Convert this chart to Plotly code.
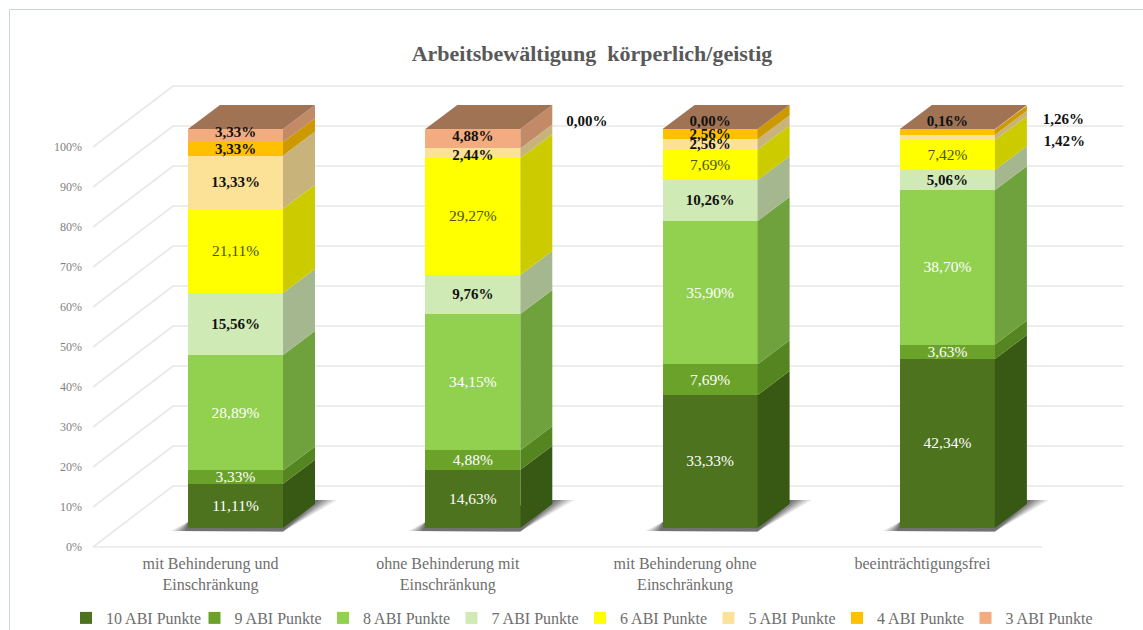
import plotly.graph_objects as go

categories = ["mit Behinderung und<br>Einschränkung", "ohne Behinderung mit<br>Einschränkung",
              "mit Behinderung ohne<br>Einschränkung", "beeinträchtigungsfrei"]
series_names = ["10 ABI Punkte", "9 ABI Punkte", "8 ABI Punkte", "7 ABI Punkte",
                "6 ABI Punkte", "5 ABI Punkte", "4 ABI Punkte", "3 ABI Punkte"]
s10 = [11.11, 14.63, 33.33, 42.34]
s9 = [3.33, 4.88, 7.69, 3.63]
s8 = [28.89, 34.15, 35.90, 38.70]
s7 = [15.56, 9.76, 10.26, 5.06]
s6 = [21.11, 29.27, 7.69, 7.42]
s5 = [13.33, 2.44, 2.56, 1.42]
s4 = [3.33, 0.00, 2.56, 1.26]
s3 = [3.33, 4.88, 0.00, 0.16]
series = [s10, s9, s8, s7, s6, s5, s4, s3]
wall_ticks = [0, 10, 20, 30, 40, 50, 60, 70, 80, 90, 100]

front_colors = ["#4E731F", "#6BA32A", "#92D050", "#D0EAB6", "#FFFF00", "#FBE296", "#FFC000", "#F2AC80"]
side_colors = ["#385914", "#558520", "#6FA23D", "#A5B78F", "#CBCB00", "#C8B47A", "#CC9900", "#C28A66"]
top_color = "#A07355"
label_colors = ["#FFFFFF", "#FFFFFF", "#FFFFFF", "#111111", "#4A5508", "#111111", "#111111", "#111111"]
label_bold = [False, False, False, True, False, True, True, True]
SERIF = "Liberation Serif"

# pixel scale of the figure -> data units
W, H = 1143, 630
X0, XSTEP = 235.5, 237.3          # category 0 centre, px per category
BAR_Y0, BAR_STEP = 528, 3.99      # bars: px of 0 %, px per %
WALL_Y0, WALL_STEP = 547, 4.0     # walls: px of 0 %, px per %
BAR_W = 95 / XSTEP
DX = 32 / XSTEP
DV = 24 / BAR_STEP
LABEL_NUDGE = 1                   # px, all value labels


def ux(px):
    return (px - X0) / XSTEP


# label shifts in px (bar, series) -> dx, dy
shifts = {(0, 7): (0, -3.5), (1, 7): (0, -2), (1, 5): (0, 2), (1, 6): (114, -27.5),
          (2, 7): (0, -8), (3, 7): (0, -8), (3, 6): (116, -12.5), (3, 5): (117, 4)}

fig = go.Figure()

# --- back layer: grid lines and shadows on the wall axes
gx, gy = [], []
wall_back = 61 / WALL_STEP
for t in wall_ticks:
    gx += [ux(93), ux(173), ux(1123), None]
    gy += [t, t + wall_back, t + wall_back, None]
gx += [ux(93), ux(1042)]
gy += [0, 0]
fig.add_trace(go.Scatter(x=gx, y=gy, mode="lines", line=dict(color="#E8E8E8", width=1.6),
                         showlegend=False, hoverinfo="skip", xaxis="x", yaxis="y"))

bar_base_wall = (WALL_Y0 - BAR_Y0) / WALL_STEP
for reach, alpha in [(1.0, 0.14), (0.8, 0.18), (0.6, 0.24), (0.4, 0.3), (0.2, 0.35)]:
    sx, sy = [], []
    for i in range(len(categories)):
        left = i - BAR_W / 2
        right = i + BAR_W / 2
        sx += [left - reach * 17 / XSTEP, right, right + DX + reach * 22 / XSTEP, right + DX, left, None]
        sy += [bar_base_wall - 3 / WALL_STEP, bar_base_wall - 3.5 / WALL_STEP,
               bar_base_wall + 28 / WALL_STEP, bar_base_wall + 28 / WALL_STEP, bar_base_wall + 6 / WALL_STEP, None]
    fig.add_trace(go.Scatter(x=sx, y=sy, mode="lines", fill="toself", line=dict(width=0),
                             fillcolor=f"rgba(70,70,70,{alpha})", showlegend=False,
                             hoverinfo="skip", xaxis="x", yaxis="y"))

# --- front layer: bars
xs = list(range(len(categories)))
for name, vals, col in zip(series_names, series, front_colors):
    fig.add_trace(go.Bar(x=xs, y=vals, name=name, width=BAR_W, marker=dict(color=col, line=dict(width=0)),
                         hoverinfo="skip", xaxis="x2", yaxis="y2"))

# --- side faces and top faces from the same values
cum = [0.0] * len(categories)
label_traces = []
for k, (vals, col) in enumerate(zip(series, side_colors)):
    px_, py_, lx, ly, lt = [], [], [], [], []
    for i, v in enumerate(vals):
        c0, c1 = cum[i], cum[i] + v
        r = i + BAR_W / 2
        if v > 0:
            px_ += [r, r + DX, r + DX, r, None]
            py_ += [c0, c0 + DV, c1 + DV, c1, None]
        dx, dy = shifts.get((i, k), (0, 0))
        lx.append(i + dx / XSTEP)
        ly.append((c0 + c1) / 2 - (dy + LABEL_NUDGE) / BAR_STEP)
        lt.append(f"{v:.2f}%".replace(".", ","))
        cum[i] = c1
    fig.add_trace(go.Scatter(x=px_, y=py_, mode="lines", fill="toself", fillcolor=col, line=dict(width=0),
                             showlegend=False, hoverinfo="skip", xaxis="x2", yaxis="y2"))
    label_traces.append(go.Scatter(
        x=lx, y=ly, text=lt, mode="text", textposition="middle center",
        textfont=dict(family=SERIF, size=15 if label_bold[k] else 15.5, color=label_colors[k],
                      weight="bold" if label_bold[k] else "normal"),
        showlegend=False, hoverinfo="skip", xaxis="x2", yaxis="y2"))

tx, ty = [], []
for i, total in enumerate(cum):
    l, r = i - BAR_W / 2, i + BAR_W / 2
    tx += [l, r, r + DX, l + DX, None]
    ty += [total, total, total + DV, total + DV, None]
fig.add_trace(go.Scatter(x=tx, y=ty, mode="lines", fill="toself", fillcolor=top_color, line=dict(width=0),
                         showlegend=False, hoverinfo="skip", xaxis="x2", yaxis="y2"))
for t in label_traces:
    fig.add_trace(t)

xrange_ = [ux(0), ux(W)]
fig.update_layout(
    width=W, height=H, margin=dict(l=0, r=0, t=0, b=0, autoexpand=False), autosize=False,
    paper_bgcolor="white", plot_bgcolor="white", barmode="stack", bargap=0,
    title=dict(text="Arbeitsbewältigung\u00a0\u00a0körperlich/geistig", x=592 / W, y=1 - 53 / H,
               xanchor="center", yanchor="middle",
               font=dict(family=SERIF, size=22, color="#595959", weight="bold")),
    xaxis=dict(range=xrange_, anchor="free", position=1 - WALL_Y0 / H, showgrid=False, zeroline=False,
               showline=False, tickmode="array", tickvals=[i - 25 / XSTEP for i in xs], ticktext=categories,
               tickfont=dict(family=SERIF, size=16, color="#6E6E6E"), ticks="", ticklabelstandoff=5,
               automargin=False),
    yaxis=dict(range=[(WALL_Y0 - H) / WALL_STEP, WALL_Y0 / WALL_STEP], anchor="free", position=93 / W,
               showgrid=False, zeroline=False, showline=False, tickmode="array", tickvals=wall_ticks,
               ticktext=[f"{t}%" for t in wall_ticks], ticks="", ticklabelstandoff=11, automargin=False,
               tickfont=dict(family=SERIF, size=12, color="#7F7F7F")),
    xaxis2=dict(range=xrange_, overlaying="x", visible=False),
    yaxis2=dict(range=[(BAR_Y0 - H) / BAR_STEP, BAR_Y0 / BAR_STEP], overlaying="y", visible=False),
    legend=dict(orientation="h", x=66 / W, y=1 - 618 / H, xanchor="left", yanchor="middle",
                entrywidth=83.5, entrywidthmode="pixels", traceorder="normal",
                font=dict(family=SERIF, size=16, color="#6E6E6E"), bgcolor="rgba(0,0,0,0)"),
    shapes=[
        dict(type="line", xref="paper", yref="paper", x0=9.5 / W, x1=9.5 / W, y0=0, y1=1 - 9.5 / H,
             line=dict(color="#C9D3EA", width=1)),
        dict(type="line", xref="paper", yref="paper", x0=9.5 / W, x1=1, y0=1 - 9.5 / H, y1=1 - 9.5 / H,
             line=dict(color="#C9D3EA", width=1)),
    ],
)

fig.write_html("out.html", post_script="document.body.style.margin='0';",
               config={"displayModeBar": False, "staticPlot": True})
